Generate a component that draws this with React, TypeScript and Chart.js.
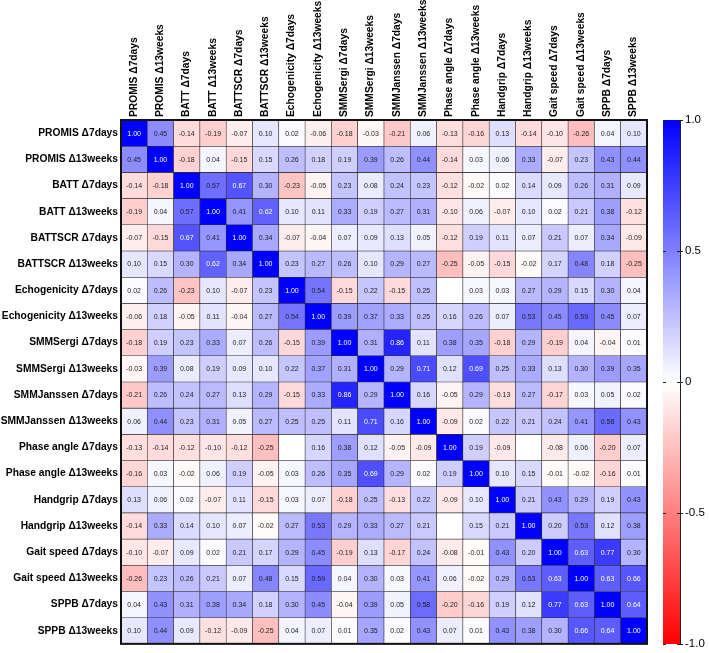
import React, { useEffect, useRef } from "react";
import { Chart, registerables } from "chart.js";
Chart.register(...registerables);

const FONT = '"Liberation Sans", Arial, Helvetica, sans-serif';

const variables = [
  "PROMIS Δ7days", "PROMIS Δ13weeks", "BATT Δ7days", "BATT Δ13weeks",
  "BATTSCR Δ7days", "BATTSCR Δ13weeks", "Echogenicity Δ7days", "Echogenicity Δ13weeks",
  "SMMSergi Δ7days", "SMMSergi Δ13weeks", "SMMJanssen Δ7days", "SMMJanssen Δ13weeks",
  "Phase angle Δ7days", "Phase angle Δ13weeks", "Handgrip Δ7days", "Handgrip Δ13weeks",
  "Gait speed Δ7days", "Gait speed Δ13weeks", "SPPB Δ7days", "SPPB Δ13weeks",
];

const promis7d = [1.00, 0.45, -0.14, -0.19, -0.07, 0.10, 0.02, -0.06, -0.18, -0.03, -0.21, 0.06, -0.13, -0.16, 0.13, -0.14, -0.10, -0.26, 0.04, 0.10];
const promis13w = [0.45, 1.00, -0.18, 0.04, -0.15, 0.15, 0.26, 0.18, 0.19, 0.39, 0.26, 0.44, -0.14, 0.03, 0.06, 0.33, -0.07, 0.23, 0.43, 0.44];
const batt7d = [-0.14, -0.18, 1.00, 0.57, 0.67, 0.30, -0.23, -0.05, 0.23, 0.08, 0.24, 0.23, -0.12, -0.02, 0.02, 0.14, 0.09, 0.26, 0.31, 0.09];
const batt13w = [-0.19, 0.04, 0.57, 1.00, 0.41, 0.62, 0.10, 0.11, 0.33, 0.19, 0.27, 0.31, -0.10, 0.06, -0.07, 0.10, 0.02, 0.21, 0.38, -0.12];
const battscr7d = [-0.07, -0.15, 0.67, 0.41, 1.00, 0.34, -0.07, -0.04, 0.07, 0.09, 0.13, 0.05, -0.12, 0.19, 0.11, 0.07, 0.21, 0.07, 0.34, -0.09];
const battscr13w = [0.10, 0.15, 0.30, 0.62, 0.34, 1.00, 0.23, 0.27, 0.26, 0.10, 0.29, 0.27, -0.25, -0.05, -0.15, -0.02, 0.17, 0.48, 0.18, -0.25];
const echo7d = [0.02, 0.26, -0.23, 0.10, -0.07, 0.23, 1.00, 0.54, -0.15, 0.22, -0.15, 0.25, null, 0.03, 0.03, 0.27, 0.29, 0.15, 0.30, 0.04];
const echo13w = [-0.06, 0.18, -0.05, 0.11, -0.04, 0.27, 0.54, 1.00, 0.39, 0.37, 0.33, 0.25, 0.16, 0.26, 0.07, 0.53, 0.45, 0.59, 0.45, 0.07];
const sergi7d = [-0.18, 0.19, 0.23, 0.33, 0.07, 0.26, -0.15, 0.39, 1.00, 0.31, 0.86, 0.11, 0.38, 0.35, -0.18, 0.29, -0.19, 0.04, -0.04, 0.01];
const sergi13w = [-0.03, 0.39, 0.08, 0.19, 0.09, 0.10, 0.22, 0.37, 0.31, 1.00, 0.29, 0.71, 0.12, 0.69, 0.25, 0.33, 0.13, 0.30, 0.39, 0.35];
const janssen7d = [-0.21, 0.26, 0.24, 0.27, 0.13, 0.29, -0.15, 0.33, 0.86, 0.29, 1.00, 0.16, -0.05, 0.29, -0.13, 0.27, -0.17, 0.03, 0.05, 0.02];
const janssen13w = [0.06, 0.44, 0.23, 0.31, 0.05, 0.27, 0.25, 0.25, 0.11, 0.71, 0.16, 1.00, -0.09, 0.02, 0.22, 0.21, 0.24, 0.41, 0.58, 0.43];
const phase7d = [-0.13, -0.14, -0.12, -0.10, -0.12, -0.25, null, 0.16, 0.38, 0.12, -0.05, -0.09, 1.00, 0.19, -0.09, null, -0.08, 0.06, -0.20, 0.07];
const phase13w = [-0.16, 0.03, -0.02, 0.06, 0.19, -0.05, 0.03, 0.26, 0.35, 0.69, 0.29, 0.02, 0.19, 1.00, 0.10, 0.15, -0.01, -0.02, -0.16, 0.01];
const handgrip7d = [0.13, 0.06, 0.02, -0.07, 0.11, -0.15, 0.03, 0.07, -0.18, 0.25, -0.13, 0.22, -0.09, 0.10, 1.00, 0.21, 0.43, 0.29, 0.19, 0.43];
const handgrip13w = [-0.14, 0.33, 0.14, 0.10, 0.07, -0.02, 0.27, 0.53, 0.29, 0.33, 0.27, 0.21, null, 0.15, 0.21, 1.00, 0.20, 0.53, 0.12, 0.38];
const gait7d = [-0.10, -0.07, 0.09, 0.02, 0.21, 0.17, 0.29, 0.45, -0.19, 0.13, -0.17, 0.24, -0.08, -0.01, 0.43, 0.20, 1.00, 0.63, 0.77, 0.30];
const gait13w = [-0.26, 0.23, 0.26, 0.21, 0.07, 0.48, 0.15, 0.59, 0.04, 0.30, 0.03, 0.41, 0.06, -0.02, 0.29, 0.53, 0.63, 1.00, 0.63, 0.66];
const sppb7d = [0.04, 0.43, 0.31, 0.38, 0.34, 0.18, 0.30, 0.45, -0.04, 0.39, 0.05, 0.58, -0.20, -0.16, 0.19, 0.12, 0.77, 0.63, 1.00, 0.64];
const sppb13w = [0.10, 0.44, 0.09, -0.12, -0.09, -0.25, 0.04, 0.07, 0.01, 0.35, 0.02, 0.43, 0.07, 0.01, 0.43, 0.38, 0.30, 0.66, 0.64, 1.00];

const matrix: (number | null)[][] = [
  promis7d, promis13w, batt7d, batt13w, battscr7d, battscr13w, echo7d, echo13w,
  sergi7d, sergi13w, janssen7d, janssen13w, phase7d, phase13w, handgrip7d, handgrip13w,
  gait7d, gait13w, sppb7d, sppb13w,
];

const colorbarTicks = [1, 0.5, 0, -0.5, -1];

function cellColor(v: number | null): string {
  if (v === null) return "#ffffff";
  if (v >= 0) {
    const c = Math.round(255 * (1 - v));
    return `rgb(${c},${c},255)`;
  }
  const c = Math.round(255 * (1 + v));
  return `rgb(255,${c},${c})`;
}

const cellTextPlugin = {
  id: "cellText",
  afterDatasetsDraw(chart: any) {
    const ctx = chart.ctx;
    ctx.save();
    ctx.font = `7px ${FONT}`;
    ctx.textAlign = "center";
    ctx.textBaseline = "middle";
    chart.data.datasets.forEach((_: any, i: number) => {
      const meta = chart.getDatasetMeta(i);
      meta.data.forEach((el: any, j: number) => {
        const v = matrix[i][j];
        if (v === null) return;
        const { x, y, base } = el.getProps(["x", "y", "base"], true);
        ctx.fillStyle = v >= 0.6 ? "#ffffff" : "#1e1e1e";
        ctx.fillText(v.toFixed(2), x, (y + base) / 2 + 0.5);
      });
    });
    ctx.restore();
  },
};

const framePlugin = {
  id: "frame",
  afterDraw(chart: any) {
    const a = chart.chartArea;
    const ctx = chart.ctx;
    ctx.save();
    ctx.strokeStyle = "#111";
    ctx.lineWidth = 2;
    ctx.strokeRect(a.left, a.top, a.right - a.left, a.bottom - a.top);
    ctx.restore();
  },
};

const colorbarTickPlugin = {
  id: "cbTicks",
  afterDraw(chart: any) {
    const a = chart.chartArea;
    const s = chart.scales.y;
    const ctx = chart.ctx;
    ctx.save();
    ctx.strokeStyle = "#222";
    ctx.lineWidth = 1;
    colorbarTicks.forEach((v) => {
      const y = Math.round(s.getPixelForValue(v)) + 0.5;
      ctx.beginPath();
      ctx.moveTo(a.left, y);
      ctx.lineTo(a.left + 3, y);
      ctx.moveTo(a.right - 3, y);
      ctx.lineTo(a.right, y);
      ctx.stroke();
    });
    ctx.restore();
  },
};

export default function App() {
  const mainRef = useRef<HTMLCanvasElement>(null);
  const barRef = useRef<HTMLCanvasElement>(null);

  useEffect(() => {
    document.body.style.margin = "0";
    const labelFont = { family: FONT, size: 10.25, weight: "bold" as const };

    const main = new Chart(mainRef.current!, {
      type: "bar",
      data: {
        labels: variables,
        datasets: matrix.map((row, i) => ({
          label: variables[i],
          data: row.map(() => [i, i + 1]) as any,
          backgroundColor: row.map(cellColor),
          borderColor: "#2b2b2b",
          borderWidth: 0.6,
          borderSkipped: false,
          barPercentage: 1,
          categoryPercentage: 1,
          grouped: false,
        })),
      },
      options: {
        responsive: false,
        animation: false,
        layout: { padding: { left: 0, top: 0, right: 62, bottom: 7 } },
        plugins: { legend: { display: false }, tooltip: { enabled: false } },
        scales: {
          x: {
            type: "category",
            position: "top",
            offset: true,
            grid: { display: false, drawTicks: false },
            border: { display: false },
            ticks: {
              autoSkip: false,
              minRotation: 90,
              maxRotation: 90,
              padding: 3,
              labelOffset: 12,
              color: "#000",
              font: labelFont,
            },
            afterFit: (s: any) => {
              s.height = 120;
            },
          },
          y: {
            type: "linear",
            min: 0,
            max: 20,
            reverse: true,
            grid: { display: false, drawTicks: false },
            border: { display: false },
            afterBuildTicks: (s: any) => {
              s.ticks = variables.map((_, i) => ({ value: i + 0.5 }));
            },
            ticks: {
              autoSkip: false,
              padding: 3,
              color: "#000",
              font: labelFont,
              callback: (_v: any, i: number) => variables[i],
            },
            afterFit: (s: any) => {
              s.width = 121;
            },
          },
        },
      } as any,
      plugins: [cellTextPlugin, framePlugin],
    });

    const bar = new Chart(barRef.current!, {
      type: "bar",
      data: {
        labels: [""],
        datasets: [
          {
            data: [[-1, 1]] as any,
            backgroundColor: (c: any) => {
              const a = c.chart.chartArea;
              if (!a) return "#ffffff";
              const g = c.chart.ctx.createLinearGradient(0, a.top, 0, a.bottom);
              g.addColorStop(0, "rgb(0,0,255)");
              g.addColorStop(0.5, "rgb(255,255,255)");
              g.addColorStop(1, "rgb(255,0,0)");
              return g;
            },
            borderWidth: 0,
            barPercentage: 1,
            categoryPercentage: 1,
          },
        ],
      },
      options: {
        responsive: false,
        animation: false,
        layout: { padding: { left: 8, top: 120, right: 0, bottom: 9 } },
        plugins: { legend: { display: false }, tooltip: { enabled: false } },
        scales: {
          x: { display: false },
          y: {
            position: "right",
            min: -1,
            max: 1,
            afterBuildTicks: (s: any) => {
              s.ticks = colorbarTicks.map((v) => ({ value: v }));
            },
            ticks: {
              padding: 2,
              color: "#000",
              font: { family: FONT, size: 11.5 },
              callback: (v: any) => (v === 0 ? "0" : Number(v).toFixed(1)),
            },
            grid: { drawOnChartArea: false, drawTicks: true, tickLength: 3, color: "#222" },
            border: { display: true, color: "#222", width: 1 },
            afterFit: (s: any) => {
              s.width = 29;
            },
          },
        },
      } as any,
      plugins: [colorbarTickPlugin],
    });

    return () => {
      main.destroy();
      bar.destroy();
    };
  }, []);

  return (
    <div style={{ position: "relative", width: 709, height: 653, background: "#fff", overflow: "hidden" }}>
      <canvas ref={mainRef} width={709} height={653} style={{ position: "absolute", left: 0, top: 0 }} />
      <canvas ref={barRef} width={54} height={653} style={{ position: "absolute", left: 655, top: 0 }} />
    </div>
  );
}
